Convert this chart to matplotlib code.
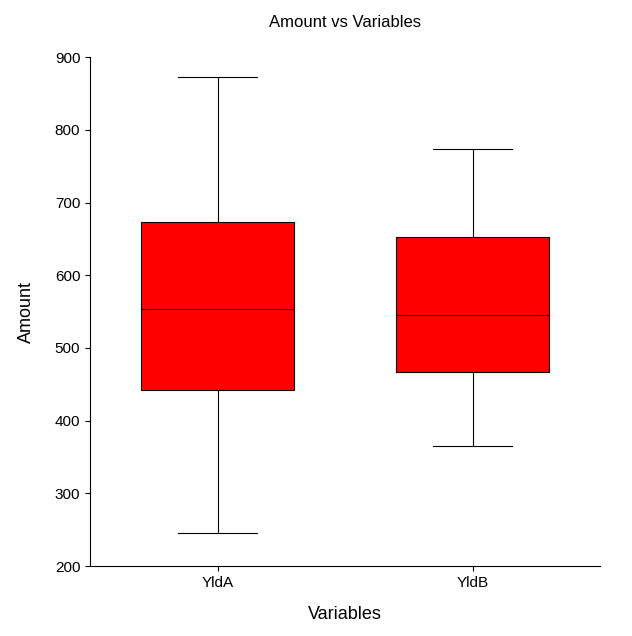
import matplotlib
matplotlib.use("Agg")
import matplotlib.pyplot as plt

plt.rcParams["font.family"] = "Liberation Sans"

categories = ["YldA", "YldB"]
whislo = [245, 365]
q1 = [442, 467]
med = [553, 545]
q3 = [673, 653]
whishi = [873, 774]

stats = [dict(label=c, whislo=lo, q1=a, med=m, q3=b, whishi=hi)
         for c, lo, a, m, b, hi in zip(categories, whislo, q1, med, q3, whishi)]

fig = plt.figure(figsize=(6.32, 6.36), dpi=100)
ax = fig.add_axes([0.1424, 0.110, 0.807, 0.800])
ax.bxp(stats, positions=[1, 2], widths=0.6, patch_artist=True, showfliers=False,
       boxprops=dict(facecolor="red", edgecolor="black", linewidth=0.8),
       medianprops=dict(color="black", linewidth=0.8),
       whiskerprops=dict(color="black", linewidth=0.8),
       capprops=dict(color="black", linewidth=0.8),
       capwidths=0.31)
ax.set_xlim(0.5, 2.5)
ax.set_ylim(200, 900)
ax.set_yticks(range(200, 901, 100))
ax.spines["top"].set_visible(False)
ax.spines["right"].set_visible(False)
ax.tick_params(labelsize=11)
ax.set_title("Amount vs Variables", fontsize=12, pad=22)
ax.set_xlabel("Variables", fontsize=13, labelpad=12)
ax.set_ylabel("Amount", fontsize=13, labelpad=14)
fig.savefig("out.png")
